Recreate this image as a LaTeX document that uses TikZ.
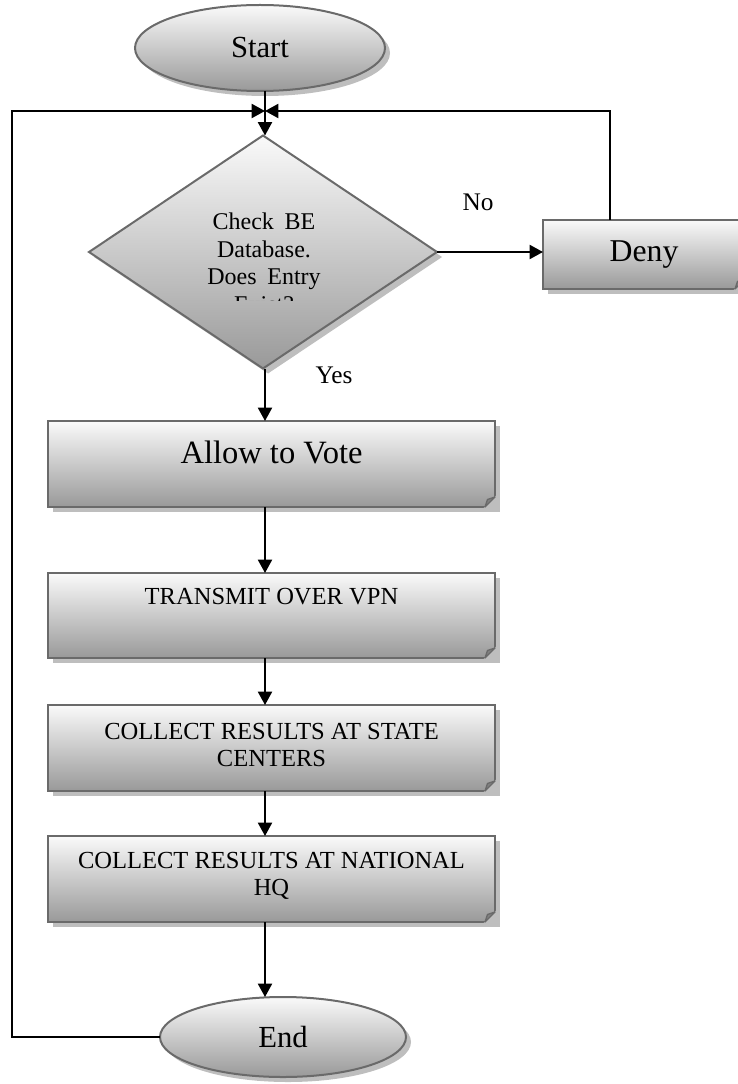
\documentclass[tikz,border=0pt]{standalone}
\usepackage{fontspec}
\setmainfont{Liberation Serif}
\usetikzlibrary{shapes.geometric,shadows,arrows.meta}
\definecolor{edgegray}{HTML}{6A6A6A}
\definecolor{shadowgray}{HTML}{BEBEBE}
\begin{document}
\begin{tikzpicture}[x=0.75pt,y=-0.75pt,
  shaded/.style={draw=edgegray, line width=1.5pt, top color=black!2, bottom color=black!40,
    inner sep=0pt, outer sep=0pt,
    drop shadow={shadow xshift=3.75pt, shadow yshift=-3.75pt, fill=shadowgray, opacity=1}},
  procbox/.style={shaded, rectangle, minimum width=335.25pt, minimum height=64.5pt},
  terminal/.style={shaded, ellipse, font=\fontsize{23}{27}\selectfont},
  decision/.style={shaded, diamond, minimum width=261pt, minimum height=174.75pt},
  boxtext/.style={font=\fontsize{18.4}{20.5}\selectfont, align=center, inner sep=0pt},
  flow/.style={line width=1.5pt, -{Triangle[length=10pt,width=10.5pt]}},
  tag/.style={font=\fontsize{19}{22}\selectfont}
]
\clip (0,0) rectangle (738,1084);

% guide coordinates for the connectors
\coordinate (axis) at (265,0);
\coordinate (join) at (265,111);
\coordinate (leftrail) at (12,0);
\coordinate (rightrail) at (610,0);

% shapes
\node[terminal, minimum width=187.5pt, minimum height=64.5pt] (start) at (260,48) {Start};
\node[decision] (check) at (263,252) {};
\begin{scope}
  \clip (80,180) rectangle (450,300);
  \node[font=\fontsize{18}{20.6}\selectfont, align=center, inner sep=0pt] (checktext) at (264,263)
    {Check\hspace{0.2em} BE\\ Database.\\ Does\hspace{0.2em} Entry\\ Exist?};
\end{scope}
\node[procbox, minimum width=151.5pt, minimum height=51.75pt, font=\fontsize{23.8}{28}\selectfont] (deny) at (644,254.5) {Deny};
\node[procbox] (allow) at (271.5,464) {};
\node[procbox, minimum height=63.75pt] (transmit) at (271.5,615.5) {};
\node[procbox] (state) at (271.5,748) {};
\node[procbox] (national) at (271.5,879) {};
\node[terminal, minimum width=184.5pt, minimum height=60pt] (end) at (283,1037) {End};

% folded corners of the process boxes
\foreach \n in {allow,transmit,state,national,deny}{
  \fill[shadowgray] (\n.south east) ++(1.2,-11.5) -- ++(0,12.7) -- ++(-12.7,0) -- cycle;
  \filldraw[draw=edgegray, fill=black!50, line width=1pt, line join=round]
    (\n.south east) ++(0,-10) -- ++(-10,10) -- ++(2.5,-7.5) -- cycle;
}

% box texts
\node[boxtext, font=\fontsize{24.4}{28}\selectfont] (allowtxt) at (271.5,452) {Allow to Vote};
\node[boxtext] (transmittxt) at (271.5,597) {TRANSMIT OVER VPN};
\node[boxtext] (statetxt) at (271.5,745) {COLLECT RESULTS AT STATE\\CENTERS};
\node[boxtext] (nationaltxt) at (271.5,876) {COLLECT RESULTS AT NATIONAL\\HQ};

% branch labels
\node[tag] (no) at (478,202) {No};
\node[tag] (yes) at (334,375) {Yes};

% connectors
\draw[flow] (axis |- start.south) -- (axis |- check.north);
\draw[flow] (check.east) -- (check.east -| deny.west);
\draw[flow] (axis |- check.south) -- (axis |- allow.north);
\draw[flow] (axis |- allow.south) -- (axis |- transmit.north);
\draw[flow] (axis |- transmit.south) -- (axis |- state.north);
\draw[flow] (axis |- state.south) -- (axis |- national.north);
\draw[flow] (axis |- national.south) -- (axis |- end.north);
\draw[flow] (end.west) -| (join -| leftrail) -- (join);
\draw[flow] (deny.north -| rightrail) |- (join);
\end{tikzpicture}
\end{document}
